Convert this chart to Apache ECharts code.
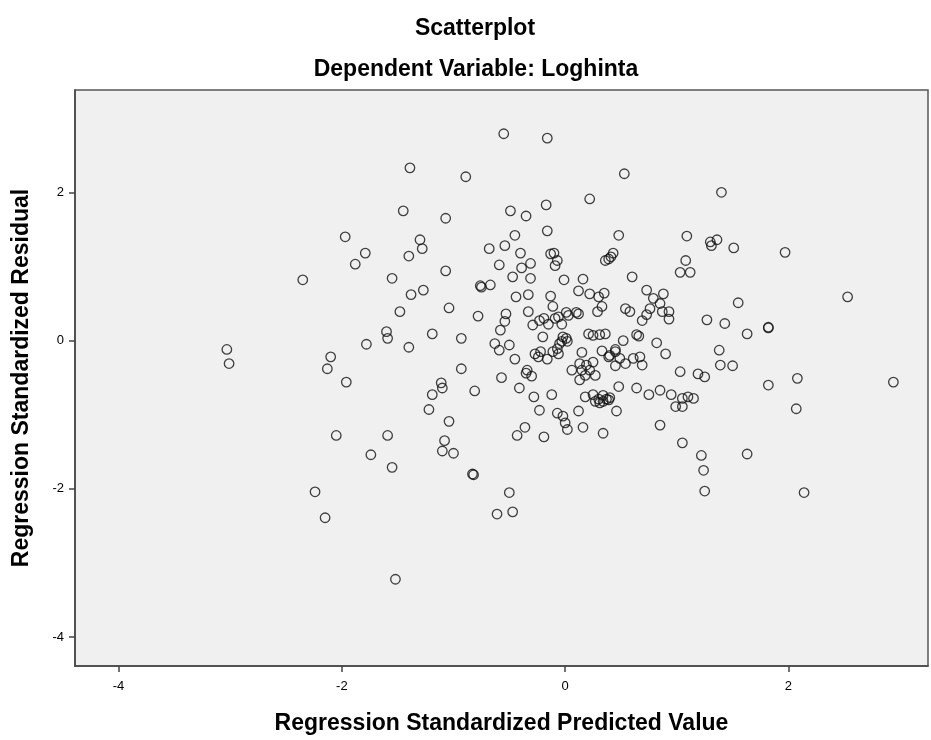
<!DOCTYPE html>
<html>
<head>
<meta charset="utf-8">
<script src="https://cdn.jsdelivr.net/npm/echarts@6/dist/echarts.min.js"></script>
<style>
  html, body { margin: 0; padding: 0; background: #fff; }
  #chart { width: 931px; height: 740px; }
</style>
</head>
<body>
<div id="chart"></div>
<script>
// Regression Standardized Predicted Value (x)
var predicted = [
  -2.35, -3.03, -3.01, -2.24, -2.15, -2.05, -1.96, -2.10, -2.13, -1.78,
  -1.74, -1.59, -1.55, -1.52, -1.60, -1.59, -1.40, -1.19, -0.93, -0.93,
  -1.11, -1.10, -1.19, -1.22, -1.04, -0.81, -1.08, -1.10, -1.00, -0.82,
  -0.83, -0.50, -0.61, -0.47, -1.39, -0.89, -1.45, -1.07, -1.97, -1.79,
  -1.88, -1.30, -1.28, -1.40, -1.55, -1.07, -1.38, -1.27, -1.48, -1.04,
  -0.76, -0.75, -0.67, -0.78, -0.55, -0.16, 0.53, 0.22, -0.49, -0.35,
  -0.17, -0.16, -0.45, -0.68, -0.54, -0.40, -0.59, -0.31, -0.39, -0.47,
  -0.31, -0.13, -0.10, -0.07, -0.09, 0.48, 0.36, 0.39, 0.43, 0.41,
  -0.44, -0.33, -0.13, -0.11, -0.01, 0.16, 0.12, 0.22, 0.30, 0.35,
  0.33, 0.29, 0.60, -0.33, -0.53, -0.54, -0.58, -0.29, -0.23, -0.19,
  -0.15, -0.09, -0.06, -0.03, 0.01, 0.03, 0.10, 0.12, -0.20, -0.63,
  -0.59, -0.50, -0.45, -0.27, -0.22, -0.16, -0.24, -0.34, -0.35, -0.30,
  -0.57, -0.41, -0.28, -0.12, -0.23, -0.36, -0.43, -0.19, -0.07, -0.02,
  0.00, 0.02, 0.16, 0.12, 0.34, -0.11, -0.06, -0.05, -0.03, 0.02,
  -0.07, 0.01, 0.06, 0.13, 0.15, 0.19, 0.13, 0.18, 0.22, 0.25,
  0.27, 0.15, 0.33, 0.39, 0.45, 0.45, 0.21, 0.25, 0.31, 0.36,
  0.18, 0.25, 0.30, 0.34, 0.39, 0.27, 0.34, 0.40, 0.46, 0.48,
  0.64, 0.75, 0.85, 0.95, 0.99, 1.05, 1.10, 1.15, 1.05, 0.85,
  1.05, 1.22, 1.24, 1.25, 1.63, 2.14, 2.07, 1.82, 2.08, 2.94,
  1.03, 1.19, 1.25, 1.38, 1.39, 1.50, 1.63, 1.82, 1.82, 1.55,
  1.27, 1.43, 2.53, 1.97, 1.51, 1.30, 1.31, 1.36, 1.09, 1.40,
  1.08, 1.03, 1.12, 0.73, 0.79, 0.88, 0.85, 0.87, 0.93, 0.93,
  0.76, 0.73, 0.69, 0.54, 0.58, 0.64, 0.66, 0.52, 0.45, 0.40,
  0.49, 0.54, 0.61, 0.67, 0.69, 0.82, 0.90, 0.31, 0.37, -0.02
];
// Regression Standardized Residual (y)
var residual = [
  0.82, -0.12, -0.31, -2.04, -2.39, -1.28, -0.56, -0.22, -0.38, -0.05,
  -1.54, -1.28, -1.71, -3.22, 0.12, 0.03, -0.09, 0.09, 0.03, -0.38,
  -0.57, -0.64, -0.73, -0.93, -1.09, -0.68, -1.35, -1.49, -1.52, -1.81,
  -1.80, -2.05, -2.34, -2.31, 2.33, 2.21, 1.75, 1.65, 1.40, 1.18,
  1.03, 1.36, 1.24, 1.14, 0.84, 0.94, 0.62, 0.68, 0.39, 0.44,
  0.74, 0.72, 0.75, 0.33, 2.79, 2.73, 2.25, 1.91, 1.75, 1.68,
  1.83, 1.48, 1.42, 1.24, 1.28, 1.18, 1.02, 1.04, 0.98, 0.86,
  0.84, 1.17, 1.18, 1.08, 1.01, 1.42, 1.08, 1.10, 1.18, 1.13,
  0.59, 0.62, 0.60, 0.46, 0.82, 0.83, 0.67, 0.63, 0.59, 0.64,
  0.46, 0.39, 0.86, 0.39, 0.36, 0.26, 0.14, 0.21, 0.27, 0.30,
  0.22, 0.30, 0.32, 0.22, 0.38, 0.34, 0.38, 0.36, 0.05, -0.04,
  -0.13, -0.06, -0.25, -0.18, -0.15, -0.25, -0.22, -0.40, -0.44, -0.48,
  -0.50, -0.64, -0.76, -0.73, -0.94, -1.17, -1.28, -1.30, -0.98, -1.02,
  -1.11, -1.20, -1.17, -0.95, -1.25, -0.15, -0.18, -0.04, -0.01, -0.01,
  -0.11, 0.03, -0.40, -0.31, -0.40, -0.33, -0.53, -0.47, -0.40, -0.29,
  -0.47, -0.16, -0.14, -0.22, -0.15, -0.34, 0.09, 0.07, 0.08, 0.09,
  -0.76, -0.73, -0.79, -0.82, -0.80, -0.82, -0.74, -0.77, -0.95, -0.62,
  -0.64, -0.73, -0.67, -0.73, -0.89, -0.89, -0.76, -0.78, -0.78, -1.14,
  -1.38, -1.55, -1.75, -2.03, -1.53, -2.05, -0.92, -0.60, -0.51, -0.56,
  -0.42, -0.45, -0.49, -0.13, -0.33, -0.34, 0.09, 0.17, 0.18, 0.51,
  0.28, 0.23, 0.59, 1.19, 1.25, 1.33, 1.28, 1.36, 1.41, 2.00,
  1.08, 0.92, 0.92, 0.68, 0.57, 0.63, 0.50, 0.39, 0.39, 0.29,
  0.43, 0.35, 0.27, 0.43, 0.39, 0.08, 0.06, 0.00, -0.12, -0.20,
  -0.24, -0.31, -0.24, -0.22, -0.33, -0.03, -0.18, -0.84, -0.79, 0.05
];
var tickValues = [-4, -2, 0, 2];

var points = predicted.map(function (x, i) { return [x, residual[i]]; });

var chart = echarts.init(document.getElementById('chart'));
var font = '"Liberation Sans", Arial, sans-serif';
var bigText = { fontFamily: font, fontSize: 23, fontWeight: 'bold', color: '#000' };

var option = {
  animation: false,
  backgroundColor: '#ffffff',
  title: [{
    text: 'Scatterplot',
    left: 470,
    top: 12,
    textAlign: 'center',
    textStyle: bigText
  }, {
    text: 'Dependent Variable: Loghinta',
    left: 471,
    top: 53,
    textAlign: 'center',
    textStyle: bigText
  }],
  grid: {
    left: 75,
    right: 3,
    top: 90,
    bottom: 71,
    show: true,
    backgroundColor: '#f0f0f0',
    borderColor: '#555',
    borderWidth: 1.5
  },
  xAxis: {
    type: 'value',
    min: -4.39,
    max: 3.25,
    name: 'Regression Standardized Predicted Value',
    nameLocation: 'middle',
    nameGap: 46,
    nameTextStyle: bigText,
    axisLine: { show: true, onZero: false, lineStyle: { color: '#444', width: 1.5 } },
    axisTick: { show: true, inside: false, length: 6, customValues: tickValues, lineStyle: { color: '#444', width: 1.5 } },
    axisLabel: { customValues: tickValues, fontFamily: font, fontSize: 13, color: '#000', margin: 14 },
    splitLine: { show: false }
  },
  yAxis: {
    type: 'value',
    min: -4.39,
    max: 3.38,
    name: 'Regression Standardized Residual',
    nameLocation: 'middle',
    nameGap: 42,
    nameTextStyle: bigText,
    axisLine: { show: true, onZero: false, lineStyle: { color: '#444', width: 1.5 } },
    axisTick: { show: true, inside: false, length: 6, customValues: tickValues, lineStyle: { color: '#444', width: 1.5 } },
    axisLabel: { customValues: tickValues, fontFamily: font, fontSize: 13, color: '#000', margin: 11 },
    splitLine: { show: false }
  },
  series: [{
    type: 'scatter',
    data: points,
    symbol: 'circle',
    symbolSize: 9.5,
    itemStyle: {
      color: 'transparent',
      borderColor: '#111',
      borderWidth: 1.3
    }
  }]
};

chart.setOption(option);
</script>
</body>
</html>
